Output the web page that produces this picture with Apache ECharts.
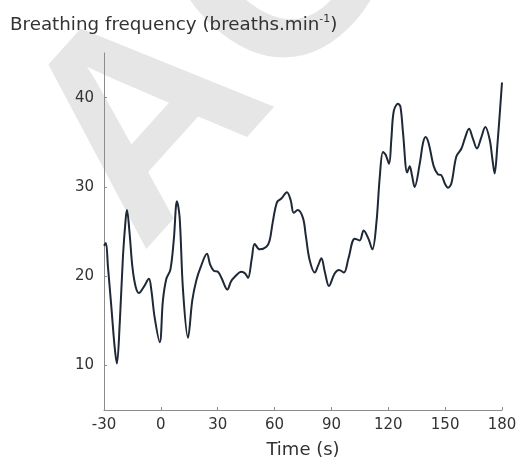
<!DOCTYPE html>
<html>
<head>
<meta charset="utf-8">
<script src="https://cdn.jsdelivr.net/npm/echarts@6/dist/echarts.min.js"></script>
<style>
html,body{margin:0;padding:0;background:#fff;}
#chart{width:519px;height:460px;}
</style>
</head>
<body>
<div id="chart"></div>
<script>
var times = [-30,-29,-27.9,-26.1,-24.4,-23.2,-21.7,-20.0,-18.6,-17.9,-16.5,-15.0,-13.3,-11.6,-9.0,-6.3,-5.0,-3.3,-0.6,1.1,2.9,5.0,6.8,8.5,9.9,11.7,14.3,16.6,18.7,21.0,24.3,26.0,27.9,30.1,32.0,35.1,37.0,38.9,42.5,44.5,46.0,48.0,49.5,52.1,55.7,57.4,59.0,61.3,63.6,66.5,68.5,70.1,72.2,75.0,76.5,78.5,81.2,83.0,84.7,86.5,88.7,91.7,94.0,96.6,99.0,102.3,104.9,107.0,109.5,111.6,113.7,115.5,117.2,118.6,120.4,121.6,122.9,125.1,126.4,127.8,130.0,131.3,132.5,133.9,136.6,138.3,139.7,141.3,144.0,146.2,148.0,150.0,151.5,153.3,155.9,158.6,160.5,162.6,164.5,166.8,169.0,171.2,173.5,175.0,176.1,177.5,180.0];
var breathing = [23.4,23.7,21.0,16.5,12.1,10.2,14.7,22.2,26.3,27.4,24.8,21.0,18.8,18.1,18.8,19.7,18.4,15.4,12.6,17.3,19.7,20.7,24.0,28.4,26.6,18.4,13.1,17.3,19.5,21.0,22.5,21.3,20.6,20.5,19.8,18.5,19.4,19.9,20.5,20.3,19.8,22.0,23.6,23.0,23.3,24.0,26.0,28.3,28.7,29.4,28.5,27.1,27.4,26.5,24.5,21.8,20.4,21.2,22.0,20.5,18.9,20.3,20.7,20.4,22.0,24.2,24.0,25.1,24.2,23.0,25.9,31.1,33.9,33.6,32.6,35.3,38.5,39.3,39.0,36.0,31.6,32.3,31.3,30.0,32.6,34.9,35.6,34.9,32.3,31.4,31.3,30.3,29.9,30.4,33.4,34.3,35.5,36.5,35.5,34.3,35.5,36.7,35.3,33.0,31.5,34.5,41.7];
var xTicks = [-30,0,30,60,90,120,150,180];
var yTicks = [10,20,30,40];

var seriesData = times.map(function(t,i){return [t, breathing[i]];});
var FONT = 'DejaVu Sans';
var chart = echarts.init(document.getElementById('chart'));
chart.setOption({
  animation:false,
  backgroundColor:'#fff',
  graphic:[{
    type:'text', x:189, y:297, rotation:48*Math.PI/180, z:-100, silent:true,
    style:{text:'AC', fill:'#e6e6e6', font:'bold 285px "Liberation Sans"', textAlign:'left', textVerticalAlign:'bottom'}
  }],
  title:{
    left:10, top:14, padding:0,
    text:'{a|Breathing frequency (breaths.min}{s|-1}{a|)}',
    textStyle:{
      rich:{
        a:{fontFamily:FONT, fontSize:18.3, fontWeight:'normal', color:'#333', lineHeight:22},
        s:{fontFamily:FONT, fontSize:11, fontWeight:'normal', color:'#333', lineHeight:11, verticalAlign:'top'}
      }
    }
  },
  grid:{left:104, right:17, top:53, bottom:50, containLabel:false, outerBoundsMode:'none'},
  xAxis:{
    type:'value', min:-30, max:180, interval:30,
    name:'Time (s)', nameLocation:'middle', nameGap:31,
    nameTextStyle:{fontFamily:FONT, fontSize:18, color:'#333'},
    axisLine:{onZero:false, lineStyle:{color:'#8c8c8c', width:1}},
    axisTick:{show:true, inside:true, length:3, lineStyle:{color:'#8c8c8c'}},
    axisLabel:{fontFamily:FONT, fontSize:15, color:'#333', margin:8},
    splitLine:{show:false}
  },
  yAxis:{
    type:'value', min:5, max:45,
    axisLine:{show:true, onZero:false, lineStyle:{color:'#8c8c8c', width:1}},
    axisTick:{show:true, inside:true, length:3, lineStyle:{color:'#8c8c8c'}, customValues:yTicks},
    axisLabel:{fontFamily:FONT, fontSize:15, color:'#333', margin:10, customValues:yTicks},
    splitLine:{show:false}
  },
  series:[{
    type:'line', data:seriesData, smooth:0.35, symbol:'none',
    lineStyle:{color:'#1f2836', width:2}, z:5
  }]
});
</script>
</body>
</html>
